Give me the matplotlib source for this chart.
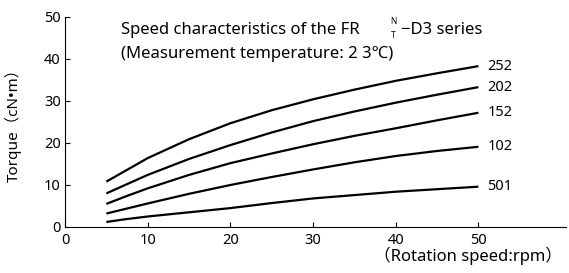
import matplotlib
matplotlib.use("Agg")
import matplotlib.pyplot as plt
import numpy as np

plt.rcParams['font.family'] = ['Noto Sans', 'Noto Sans CJK JP', 'DejaVu Sans']

speed = [5, 7.5, 10, 15, 20, 25, 30, 35, 40, 45, 50]
series_names = ["252", "202", "152", "102", "501"]
torque_252 = [10.8, 13.6, 16.4, 20.9, 24.7, 27.8, 30.4, 32.7, 34.8, 36.6, 38.3]
torque_202 = [8.0, 10.2, 12.4, 16.2, 19.5, 22.5, 25.2, 27.5, 29.6, 31.5, 33.3]
torque_152 = [5.5, 7.4, 9.2, 12.4, 15.2, 17.5, 19.7, 21.7, 23.5, 25.4, 27.2]
torque_102 = [3.2, 4.4, 5.6, 7.9, 10.0, 11.9, 13.7, 15.4, 16.9, 18.1, 19.1]
torque_501 = [1.2, 1.9, 2.5, 3.5, 4.5, 5.7, 6.8, 7.6, 8.4, 9.0, 9.6]
series = [torque_252, torque_202, torque_152, torque_102, torque_501]

x_ticks = [0, 10, 20, 30, 40, 50]
y_ticks = [0, 10, 20, 30, 40, 50]

fig = plt.figure(figsize=(5.69, 2.73), dpi=100)
ax = fig.add_axes([65/569, 1-227/273, (566-65)/569, 210/273])

for name, vals in zip(series_names, series):
    ax.plot(speed, vals, color='black', lw=1.6, solid_capstyle='butt',
            solid_joinstyle='round')
    ax.text(speed[-1] + 1.1, vals[-1], name, fontsize=10.5, va='center', ha='left')

ax.set_xlim(0, 60.6)
ax.set_ylim(0, 50)
ax.set_xticks(x_ticks)
ax.set_yticks(y_ticks)
ax.tick_params(direction='in', length=3.5, width=0.8, labelsize=10.5, pad=3)
ax.tick_params(axis='x', pad=4)
for s in ['top', 'right']:
    ax.spines[s].set_visible(False)
for s in ['left', 'bottom']:
    ax.spines[s].set_linewidth(0.8)

ax.set_ylabel("Torque（cN•m）", fontsize=11)
ax.yaxis.set_label_coords(-(65-22)/501, 0.5)
fig.text(468/569, 1-256/273, "（Rotation speed:rpm）", fontsize=12, ha='center', va='center')

fig.text(121/569, 1-30/273, "Speed characteristics of the FR", fontsize=12, ha='left', va='center')
fig.text(393/569, 1-21/273, "N", fontsize=6, ha='center', va='center')
fig.text(393/569, 1-35/273, "T", fontsize=6, ha='center', va='center')
fig.text(401/569, 1-30/273, "−D3 series", fontsize=12, ha='left', va='center')
fig.text(121/569, 1-54/273, "(Measurement temperature: 2 3℃)", fontsize=12, ha='left', va='center')

fig.savefig("out.png", dpi=100)
